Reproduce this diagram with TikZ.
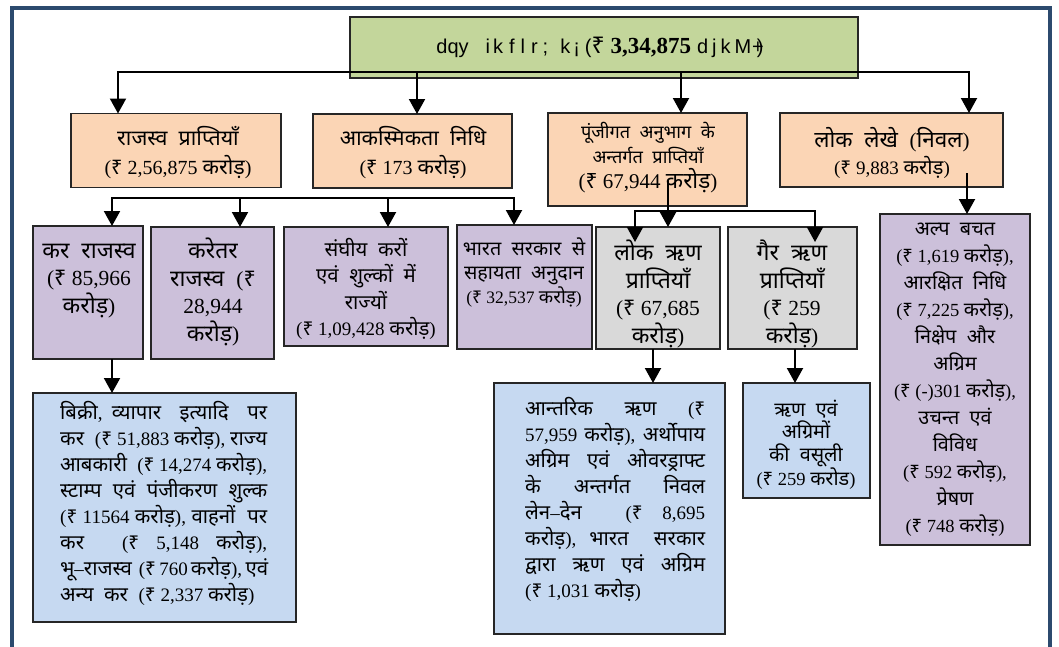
\documentclass[tikz,border=0pt]{standalone}
\usepackage{fontspec}
\setmainfont{Liberation Serif}
\newfontfamily\devfont[Script=Devanagari,Scale=1.07,WordSpace=2.0]{Noto Sans}
\newfontfamily\rupfont{Noto Sans}
\newfontfamily\titlefont{Liberation Sans}
\usetikzlibrary{arrows.meta,calc}
% automatic font switch for Devanagari and the rupee sign
\newif\ifdevmode
\XeTeXinterchartokenstate=1
\newXeTeXintercharclass\devcls
\newXeTeXintercharclass\rupcls
\makeatletter
\@tempcnta="0900
\loop \XeTeXcharclass\@tempcnta=\devcls \ifnum\@tempcnta<"097F \advance\@tempcnta by 1 \repeat
\XeTeXcharclass"200C=\devcls
\XeTeXcharclass"200D=\devcls
\XeTeXcharclass"20B9=\rupcls
\def\oldfam{\rmdefault}
\XeTeXinterchartoks 0 \devcls = {\devfont\devmodetrue}
\XeTeXinterchartoks 4095 \devcls = {\devfont\devmodetrue}
\XeTeXinterchartoks \rupcls \devcls = {\devfont\devmodetrue}
\XeTeXinterchartoks \devcls 0 = {\rmfamily\devmodefalse}
\XeTeXinterchartoks 4095 0 = {\ifdevmode\rmfamily\devmodefalse\fi}
\XeTeXinterchartoks 0 \rupcls = {\edef\oldfam{\f@family}\rupfont}
\XeTeXinterchartoks 4095 \rupcls = {\ifdevmode\rmfamily\devmodefalse\fi\edef\oldfam{\f@family}\rupfont}
\XeTeXinterchartoks \devcls \rupcls = {\rmfamily\devmodefalse\edef\oldfam{\f@family}\rupfont}
\XeTeXinterchartoks \rupcls 0 = {\fontfamily{\oldfam}\selectfont}
\XeTeXinterchartoks \rupcls 4095 = {\fontfamily{\oldfam}\selectfont}
\makeatother
\newcommand\setfs[2]{\fontsize{#1}{#2}\selectfont}
\newcommand\jl[2]{\makebox[#1][s]{#2}}
\definecolor{titlegreen}{HTML}{C3D69B}
\definecolor{peach}{HTML}{FBD5B5}
\definecolor{lilac}{HTML}{CCC0DA}
\definecolor{greybox}{HTML}{D9D9D9}
\definecolor{lightblue}{HTML}{C6D9F1}
\definecolor{framecol}{HTML}{2C4A6E}
\tikzset{
  bx/.style={draw=black!85, line width=1.3pt, inner sep=0pt, outer sep=0pt},
  txt/.style={align=center, inner sep=0pt},
  ln/.style={line width=2pt, line cap=rect},
  arr/.style={line width=2pt, -{Triangle[width=16pt,length=15pt]}},
}
\begin{document}
\begin{tikzpicture}[x=1pt,y=-1pt]
\useasboundingbox (0,0) rectangle (1059,646);
\clip (0,0) rectangle (1059,646);
\fill[white] (0,0) rectangle (1059,646);
\draw[framecol, line width=4pt] (12,8) rectangle (1050,700);

% title
\node[bx, fill=titlegreen, line width=2.8pt, minimum width=508pt, minimum height=61pt] (T) at (604,47.5) {};
\node[txt] (Tt) at (600,47) {{\titlefont\setfs{20}{24}dqy\kern17pt i\kern3pt k\kern6pt f\kern6pt l\kern6pt r\kern5pt ;\kern12pt k\kern3pt ¡\kern5pt (}{\rmfamily\bfseries\setfs{23}{26}₹ 3,34,875}{\titlefont\setfs{20}{24}\kern6pt d\kern4pt j\kern4pt k\kern4pt M\kern1pt +\kern-7pt)}};

% row 1
\node[bx, fill=peach, minimum width=210pt, minimum height=74pt] (A) at (176,150.5) {};
\node[bx, fill=peach, minimum width=199pt, minimum height=74pt] (B) at (412.5,151) {};
\node[bx, fill=peach, minimum width=199pt, minimum height=93pt] (C) at (647.5,159.5) {};
\node[bx, fill=peach, minimum width=223pt, minimum height=74pt] (D) at (891.5,150) {};
\node[txt, font=\setfs{20}{29}] (At) at (178,153) {राजस्व प्राप्तियाँ\\(₹ 2,56,875 करोड़)};
\node[txt, font=\setfs{20}{29}] (Bt) at (413,153) {आकस्मिकता निधि\\(₹ 173 करोड़)};
\node[txt, font=\setfs{17}{25}] (Ct) at (648,158) {पूंजीगत अनुभाग के\\अन्तर्गत प्राप्तियाँ\\{\setfs{21}{25}(₹ 67,944 करोड़)}};
\node[txt, font=\setfs{21}{27}] (Dt) at (892,153) {लोक लेखे (निवल)\\{\setfs{19}{27}(₹ 9,883 करोड़)}};

% row 2
\node[bx, fill=lilac, minimum width=110pt, minimum height=133pt] (E) at (88,292.5) {};
\node[bx, fill=lilac, minimum width=123pt, minimum height=132pt] (F) at (212.5,293) {};
\node[bx, fill=lilac, minimum width=164pt, minimum height=119pt] (G) at (366,286.5) {};
\node[bx, fill=lilac, minimum width=135pt, minimum height=124pt] (H) at (524.5,287) {};
\node[bx, fill=greybox, minimum width=124pt, minimum height=122pt] (I) at (658,288) {};
\node[bx, fill=greybox, minimum width=129pt, minimum height=122pt] (J) at (792.5,288) {};
\node[bx, fill=lilac, minimum width=150pt, minimum height=331pt] (K) at (955,379.5) {};
\node[txt, font=\setfs{21.5}{27.5}] (Et) at (89,281) {कर राजस्व\\(₹ 85,966\\करोड़)};
\node[txt, font=\setfs{21.5}{27.5}] (Ft) at (213,292) {करेतर\\राजस्व (₹\\28,944\\करोड़)};
\node[txt, font=\setfs{19}{26.5}] (Gt) at (366,289) {संघीय करों\\एवं शुल्कों में\\राज्यों\\(₹ 1,09,428 करोड़)};
\node[txt, font=\setfs{18.5}{24}] (Ht) at (524,272) {भारत सरकार से\\सहायता अनुदान\\{\setfs{17.5}{24}(₹ 32,537 करोड़)}};
\begin{scope}
\clip (I.south west) rectangle (I.north east);
\node[txt, font=\setfs{21.5}{27.5}] (It) at (658,294) {लोक ऋण\\प्राप्तियाँ\\(₹ 67,685\\करोड़)};
\end{scope}
\begin{scope}
\clip (J.south west) rectangle (J.north east);
\node[txt, font=\setfs{21.5}{27.5}] (Jt) at (792,294) {गैर ऋण\\प्राप्तियाँ\\(₹ 259\\करोड़)};
\end{scope}
\node[txt, font=\setfs{18.5}{27}] (Kt) at (955,380) {अल्प बचत\\(₹ 1,619 करोड़),\\आरक्षित निधि\\(₹ 7,225 करोड़),\\निक्षेप और\\अग्रिम\\(₹ (-)301 करोड़),\\उचन्त एवं\\विविध\\(₹ 592 करोड़),\\प्रेषण\\(₹ 748 करोड़)};

% row 3
\node[bx, fill=lightblue, minimum width=263pt, minimum height=229pt] (L) at (164.5,507.5) {};
\node[bx, fill=lightblue, minimum width=231pt, minimum height=251pt] (M) at (609.5,508.5) {};
\node[bx, fill=lightblue, minimum width=127pt, minimum height=115pt] (N) at (806.5,440.5) {};
\node[txt, align=left, anchor=west, font=\setfs{19}{26}] (Lt) at (60,503) {\jl{207pt}{बिक्री, व्यापार इत्यादि पर}\\\jl{207pt}{कर (₹ 51,883 करोड़), राज्य}\\\jl{207pt}{आबकारी (₹ 14,274 करोड़),}\\\jl{207pt}{स्टाम्प एवं पंजीकरण शुल्क}\\\jl{207pt}{(₹ 11564 करोड़), वाहनों पर}\\\jl{207pt}{कर (₹ 5,148 करोड़),}\\\jl{207pt}{भू–राजस्व (₹ 760 करोड़), एवं}\\अन्य कर (₹ 2,337 करोड़)};
\node[txt, align=left, anchor=west, font=\setfs{19}{26}] (Mt) at (525,499.5) {\jl{180pt}{आन्तरिक ऋण (₹}\\\jl{180pt}{57,959 करोड़), अर्थोपाय}\\\jl{180pt}{अग्रिम एवं ओवरड्राफ्ट}\\\jl{180pt}{के अन्तर्गत निवल}\\\jl{180pt}{लेन–देन (₹ 8,695}\\\jl{180pt}{करोड़), भारत सरकार}\\\jl{180pt}{द्वारा ऋण एवं अग्रिम}\\(₹ 1,031 करोड़)};
\node[txt, font=\setfs{18.5}{22.5}] (Nt) at (806,444.5) {ऋण एवं\\अग्रिमों\\की वसूली\\(₹ 259 करोड)};

% connectors from title
\coordinate (h1) at (118,72);
\coordinate (h2) at (417,72);
\coordinate (h3) at (681,72);
\coordinate (h4) at (969,72);
\draw[ln] (h1) -- (h4);
\draw[arr] (h1) -- (h1 |- A.north);
\draw[arr] (h2) -- (h2 |- B.north);
\draw[arr] (h3) -- (h3 |- C.north);
\draw[arr] (h4) -- (h4 |- D.north);

% bracket under row 1 (left)
\coordinate (k1) at (112,198);
\coordinate (k2) at (240,198);
\coordinate (k3) at (388,198);
\coordinate (k4) at (514,198);
\draw[ln] (k1) -- (k4);
\draw[arr] (k1) -- (k1 |- E.north);
\draw[arr] (k2) -- (k2 |- F.north);
\draw[arr] (k3) -- (k3 |- G.north);
\draw[arr] (k4) -- (k4 |- H.north);

% from C
\coordinate (c0) at (668,180);
\coordinate (c1) at (635,211);
\coordinate (c2) at (815,211);
\draw[ln] (c1) -- (c2);
\draw[arr] (c0) -- (c0 |- I.north);
\draw[arr] (c1) -- ($(c1 |- I.north)+(0,15)$);
\draw[arr] (c2) -- ($(c2 |- J.north)+(0,15)$);

% from D
\coordinate (d0) at (967,173);
\draw[arr] (d0) -- (d0 |- K.north);

% to row 3
\coordinate (xm) at (653,0);
\coordinate (xn) at (795,0);
\draw[arr] (k1 |- E.south) -- (k1 |- L.north);
\draw[arr] (xm |- I.south) -- (xm |- M.north);
\draw[arr] (xn |- J.south) -- (xn |- N.north);
\end{tikzpicture}
\end{document}
